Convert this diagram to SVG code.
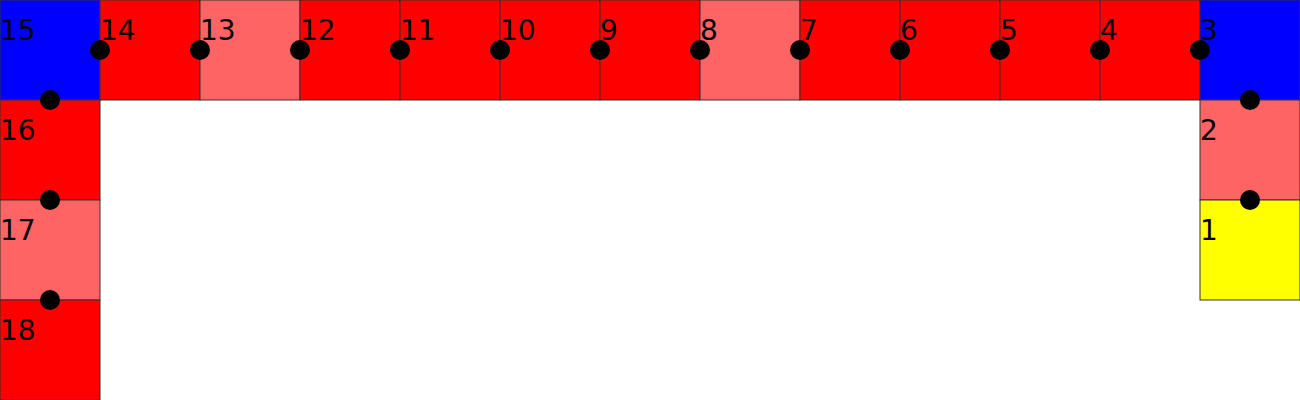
<svg xmlns="http://www.w3.org/2000/svg" width="1300" height="400" viewBox="0 0 1300 400">
<style>
.c{stroke:#333;stroke-width:1}
.r{fill:#ff0000}
.l{fill:#ff6464}
.b{fill:#0000ff}
.y{fill:#ffff00}
text{font-family:"DejaVu Sans",sans-serif;font-size:28px;fill:#000}
.d{fill:#000}
</style>
<g id="n15"><rect class="c b" x="0" y="0" width="100" height="100"/><text x="0" y="40">15</text></g>
<g id="n14"><rect class="c r" x="100" y="0" width="100" height="100"/><text x="100" y="40">14</text></g>
<g id="n13"><rect class="c l" x="200" y="0" width="100" height="100"/><text x="200" y="40">13</text></g>
<g id="n12"><rect class="c r" x="300" y="0" width="100" height="100"/><text x="300" y="40">12</text></g>
<g id="n11"><rect class="c r" x="400" y="0" width="100" height="100"/><text x="400" y="40">11</text></g>
<g id="n10"><rect class="c r" x="500" y="0" width="100" height="100"/><text x="500" y="40">10</text></g>
<g id="n9"><rect class="c r" x="600" y="0" width="100" height="100"/><text x="600" y="40">9</text></g>
<g id="n8"><rect class="c l" x="700" y="0" width="100" height="100"/><text x="700" y="40">8</text></g>
<g id="n7"><rect class="c r" x="800" y="0" width="100" height="100"/><text x="800" y="40">7</text></g>
<g id="n6"><rect class="c r" x="900" y="0" width="100" height="100"/><text x="900" y="40">6</text></g>
<g id="n5"><rect class="c r" x="1000" y="0" width="100" height="100"/><text x="1000" y="40">5</text></g>
<g id="n4"><rect class="c r" x="1100" y="0" width="100" height="100"/><text x="1100" y="40">4</text></g>
<g id="n3"><rect class="c b" x="1200" y="0" width="100" height="100"/><text x="1200" y="40">3</text></g>
<g id="n2"><rect class="c l" x="1200" y="100" width="100" height="100"/><text x="1200" y="140">2</text></g>
<g id="n1"><rect class="c y" x="1200" y="200" width="100" height="100"/><text x="1200" y="240">1</text></g>
<g id="n16"><rect class="c r" x="0" y="100" width="100" height="100"/><text x="0" y="140">16</text></g>
<g id="n17"><rect class="c l" x="0" y="200" width="100" height="100"/><text x="0" y="240">17</text></g>
<g id="n18"><rect class="c r" x="0" y="300" width="100" height="100"/><text x="0" y="340">18</text></g>
<g id="connectors">
<circle class="d" cx="100" cy="50" r="10"/>
<circle class="d" cx="200" cy="50" r="10"/>
<circle class="d" cx="300" cy="50" r="10"/>
<circle class="d" cx="400" cy="50" r="10"/>
<circle class="d" cx="500" cy="50" r="10"/>
<circle class="d" cx="600" cy="50" r="10"/>
<circle class="d" cx="700" cy="50" r="10"/>
<circle class="d" cx="800" cy="50" r="10"/>
<circle class="d" cx="900" cy="50" r="10"/>
<circle class="d" cx="1000" cy="50" r="10"/>
<circle class="d" cx="1100" cy="50" r="10"/>
<circle class="d" cx="1200" cy="50" r="10"/>
<circle class="d" cx="1250" cy="100" r="10"/>
<circle class="d" cx="1250" cy="200" r="10"/>
<circle class="d" cx="50" cy="100" r="10"/>
<circle class="d" cx="50" cy="200" r="10"/>
<circle class="d" cx="50" cy="300" r="10"/>
</g>
</svg>
